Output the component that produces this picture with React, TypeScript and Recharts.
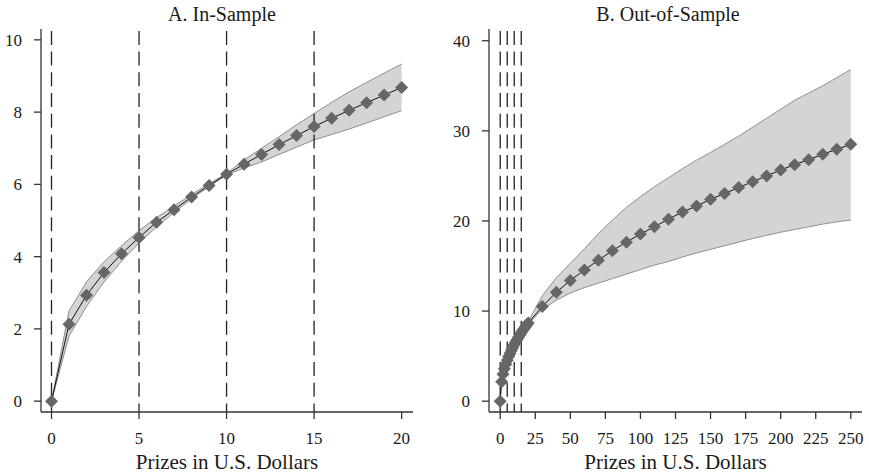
import {
  ComposedChart,
  Area,
  Line,
  XAxis,
  YAxis,
  ReferenceLine,
  Label,
} from 'recharts';

// ── Panel A: in-sample ────────────────────────────────────────────────────────

const inX = [0, 1, 2, 3, 4, 5, 6, 7, 8, 9, 10, 11, 12, 13, 14, 15, 16, 17, 18, 19, 20];
const inMean = [0, 2.13, 2.93, 3.56, 4.08, 4.53, 4.95, 5.3, 5.65, 5.97, 6.28, 6.56, 6.83, 7.1, 7.35, 7.6, 7.83, 8.05, 8.26, 8.47, 8.68];
const inLow = [0, 1.8, 2.62, 3.3, 3.87, 4.38, 4.82, 5.22, 5.6, 5.94, 6.26, 6.45, 6.62, 6.83, 7.03, 7.23, 7.38, 7.53, 7.7, 7.87, 8.04];
const inHigh = [0, 2.5, 3.3, 3.86, 4.3, 4.72, 5.08, 5.4, 5.72, 6.02, 6.3, 6.68, 7.0, 7.32, 7.65, 7.96, 8.27, 8.56, 8.82, 9.08, 9.33];

const inXTicks = [0, 5, 10, 15, 20];
const inYTicks = [0, 2, 4, 6, 8, 10];
const inCutoffs = [0, 5, 10, 15];

// ── Panel B: out-of-sample ────────────────────────────────────────────────────

const outX = [
  0, 1, 2, 3, 4, 5, 6, 7, 8, 9, 10, 11, 12, 13, 14, 15, 16, 17, 18, 19, 20,
  30, 40, 50, 60, 70, 80, 90, 100, 110, 120, 130, 140, 150, 160, 170, 180, 190, 200, 210, 220, 230, 240, 250,
];
const outMean = [
  0, 2.15, 3.0, 3.6, 4.1, 4.55, 4.95, 5.3, 5.65, 5.97, 6.28, 6.56, 6.83, 7.1, 7.35, 7.6, 7.83, 8.05, 8.26, 8.47, 8.68,
  10.5, 12.1, 13.4, 14.55, 15.65, 16.7, 17.65, 18.55, 19.35, 20.2, 21.0, 21.65, 22.4, 23.05, 23.7, 24.35, 25.0, 25.65, 26.25, 26.8, 27.4, 27.95, 28.5,
];
const outLow = [
  null, null, null, null, null, null, null, null, null, null, null, null, null, null, null, null, null, null, null, null, 8.55,
  10.2, 11.2, 12.0, 12.6, 13.1, 13.6, 14.1, 14.6, 15.1, 15.5, 16.0, 16.45, 16.85, 17.25, 17.65, 18.05, 18.4, 18.75, 19.05, 19.35, 19.65, 19.9, 20.1,
];
const outHigh = [
  null, null, null, null, null, null, null, null, null, null, null, null, null, null, null, null, null, null, null, null, 8.85,
  11.7, 13.7, 15.3, 16.9, 18.6, 20.1, 21.5, 22.7, 23.8, 24.8, 25.8, 26.75, 27.6, 28.5, 29.4, 30.4, 31.4, 32.4, 33.4, 34.2, 35.0, 35.9, 36.8,
];

const outXTicks = [0, 25, 50, 75, 100, 125, 150, 175, 200, 225, 250];
const outYTicks = [0, 10, 20, 30, 40];
const outCutoffs = [0, 5, 10, 15];

const FONT = '"Liberation Serif", "Times New Roman", serif';
const AXIS = '#333';

const buildRows = (xs: number[], mean: number[], low: (number | null)[], high: (number | null)[]) =>
  xs.map((x, i) => ({
    x,
    mean: mean[i],
    band: low[i] == null || high[i] == null ? null : [low[i], high[i]],
  }));

const Diamond = (props: any) => {
  const { cx, cy, index } = props;
  if (cx == null || cy == null) return null;
  const r = 6.5;
  return (
    <polygon
      key={`d-${index}`}
      points={`${cx},${cy - r} ${cx + r},${cy} ${cx},${cy + r} ${cx - r},${cy}`}
      fill="#666666"
    />
  );
};

interface PanelProps {
  rows: any[];
  width: number;
  yAxisWidth: number;
  marginRight: number;
  xDomain: [number, number];
  yDomain: [number, number];
  xTicks: number[];
  yTicks: number[];
  cutoffs: number[];
}

function Panel(p: PanelProps) {
  const tickStyle = { fontSize: 17, fill: '#1a1a1a', fontFamily: FONT };
  return (
    <ComposedChart
      width={p.width}
      height={474}
      data={p.rows}
      margin={{ top: 29, right: p.marginRight, left: 0, bottom: 0 }}
    >
      <XAxis
        dataKey="x"
        type="number"
        domain={p.xDomain}
        ticks={p.xTicks}
        interval={0}
        height={62}
        tickSize={7}
        tickMargin={13}
        tick={tickStyle}
        axisLine={{ stroke: AXIS, strokeWidth: 1.3 }}
        tickLine={{ stroke: AXIS, strokeWidth: 1.3 }}
      >
        <Label
          value="Prizes in U.S. Dollars"
          position="insideBottom"
          offset={5}
          style={{ fontSize: 21, fill: '#1a1a1a', fontFamily: FONT }}
        />
      </XAxis>
      <YAxis
        type="number"
        domain={p.yDomain}
        ticks={p.yTicks}
        interval={0}
        width={p.yAxisWidth}
        tickSize={7}
        tickMargin={12}
        tick={tickStyle}
        axisLine={{ stroke: AXIS, strokeWidth: 1.3 }}
        tickLine={{ stroke: AXIS, strokeWidth: 1.3 }}
      />

      {/* Banda de confianza */}
      <Area
        type="linear"
        dataKey="band"
        fill="#d3d4d6"
        fillOpacity={1}
        stroke="#8f8f8f"
        strokeWidth={1}
        dot={false}
        activeDot={false}
        isAnimationActive={false}
      />

      {/* Cortes verticales */}
      {p.cutoffs.map((c) => (
        <ReferenceLine
          key={c}
          segment={[
            { x: c, y: p.yDomain[1] - (p.yDomain[1] - p.yDomain[0]) * 0.005 },
            { x: c, y: p.yDomain[0] },
          ]}
          stroke="#222"
          strokeWidth={1.3}
          strokeDasharray="14 6.7"
        />
      ))}

      <Line
        type="linear"
        dataKey="mean"
        stroke="#111"
        strokeWidth={1}
        dot={<Diamond />}
        activeDot={false}
        isAnimationActive={false}
      />
    </ComposedChart>
  );
}

export default function App() {
  const inRows = buildRows(inX, inMean, inLow, inHigh);
  const outRows = buildRows(outX, outMean, outLow, outHigh);

  const titleStyle: React.CSSProperties = {
    position: 'absolute',
    top: 3,
    width: 300,
    textAlign: 'center',
    fontFamily: FONT,
    fontSize: 20,
    lineHeight: '23px',
    color: '#1a1a1a',
  };

  return (
    <div style={{ position: 'absolute', left: 0, top: 0, width: 869, height: 474, background: '#fff', fontFamily: FONT }}>
      <div style={{ ...titleStyle, left: 222 - 150 }}>A. In-Sample</div>
      <div style={{ ...titleStyle, left: 668 - 150 }}>B. Out-of-Sample</div>
      <div style={{ position: 'absolute', left: 0, top: 0 }}>
        <Panel
          rows={inRows}
          width={434}
          yAxisWidth={41}
          marginRight={21}
          xDomain={[-0.6, 20.65]}
          yDomain={[-0.3, 10.3]}
          xTicks={inXTicks}
          yTicks={inYTicks}
          cutoffs={inCutoffs}
        />
      </div>
      <div style={{ position: 'absolute', left: 434, top: 0 }}>
        <Panel
          rows={outRows}
          width={435}
          yAxisWidth={55}
          marginRight={7}
          xDomain={[-8, 258]}
          yDomain={[-1.2, 41.3]}
          xTicks={outXTicks}
          yTicks={outYTicks}
          cutoffs={outCutoffs}
        />
      </div>
    </div>
  );
}
